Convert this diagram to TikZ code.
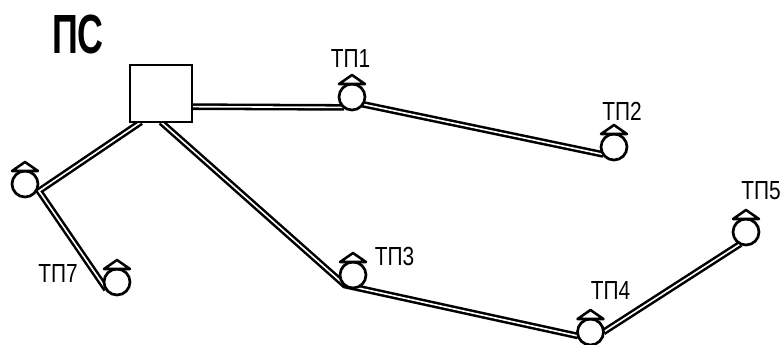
\documentclass[tikz,border=0pt]{standalone}
\usepackage{fontspec}
\setmainfont{Liberation Sans}
\newfontfamily\labfont[FakeStretch=0.8]{Liberation Sans}
\newfontfamily\bigfont[FakeStretch=0.65]{Liberation Sans Bold}
\usetikzlibrary{positioning,backgrounds}
\begin{document}
\begin{tikzpicture}
  [
    x=0.75pt, y=-0.75pt,
    Sub/.style={rectangle, draw=black, fill=white, line width=2.2pt, outer sep=0pt, minimum width=46.5pt, minimum height=42.75pt, inner sep=0pt},
    Tp/.style={circle, draw=black, fill=white, line width=2pt, outer sep=0pt, minimum size=19.5pt, inner sep=0pt},
    Hat/.style={draw=black, fill=white, line width=1.9pt, line join=round},
    Cable/.style={draw=black, line width=1.9pt, double=white, double distance=1.2pt},
    Lab/.style={font=\fontsize{19.6}{19.6}\selectfont\labfont, inner sep=0pt}
  ]
  \useasboundingbox (0, 0) rectangle (783, 344);
  % Nodes
  \node[Sub] (ps) at(161, 93.5) {};
  \node[Tp] (t1) at(352, 97) {};
  \node[Tp] (t2) at(614, 147) {};
  \node[Tp] (t3) at(353, 275) {};
  \node[Tp] (t4) at(590.5, 332) {};
  \node[Tp] (t5) at(746, 232) {};
  \node[Tp] (t6) at(25, 184) {};
  \node[Tp] (t7) at(117, 282) {};
  \coordinate (j6) at(39, 191);
  % Lines
  \begin{scope}[on background layer]
    \path [Cable] (ps.-23.5) -- (t1.233);
    \path [Cable] (t1.-34) -- (t2.215);
    \path [Cable] (ps.-90) -- (t3.231) -- (t4.198);
    \path [Cable] (t4.0) -- (t5.-115);
    \path [Cable] (ps.-125) -- (j6) -- (t7.215);
  \end{scope}
  % Hats
  \foreach \t in {t1,t2,t3,t4,t5,t6,t7}
    \path [Hat] (\t) ++(-13, -13) -- ++(13, -9) -- ++(13, 9) -- cycle;
  % Labels
  \node[inner sep=0pt] (lps) at(78, 34) {\fontsize{41.4}{41.4}\selectfont\bigfont ПС};
  \node[Lab] (l1) at(350.5, 59) {ТП1};
  \node[Lab] (l2) at(622, 111) {ТП2};
  \node[Lab] (l3) at(394.5, 256) {ТП3};
  \node[Lab] (l4) at(610.5, 291) {ТП4};
  \node[Lab] (l5) at(761, 191) {ТП5};
  \node[Lab] (l7) at(58, 274) {ТП7};
\end{tikzpicture}
\end{document}
